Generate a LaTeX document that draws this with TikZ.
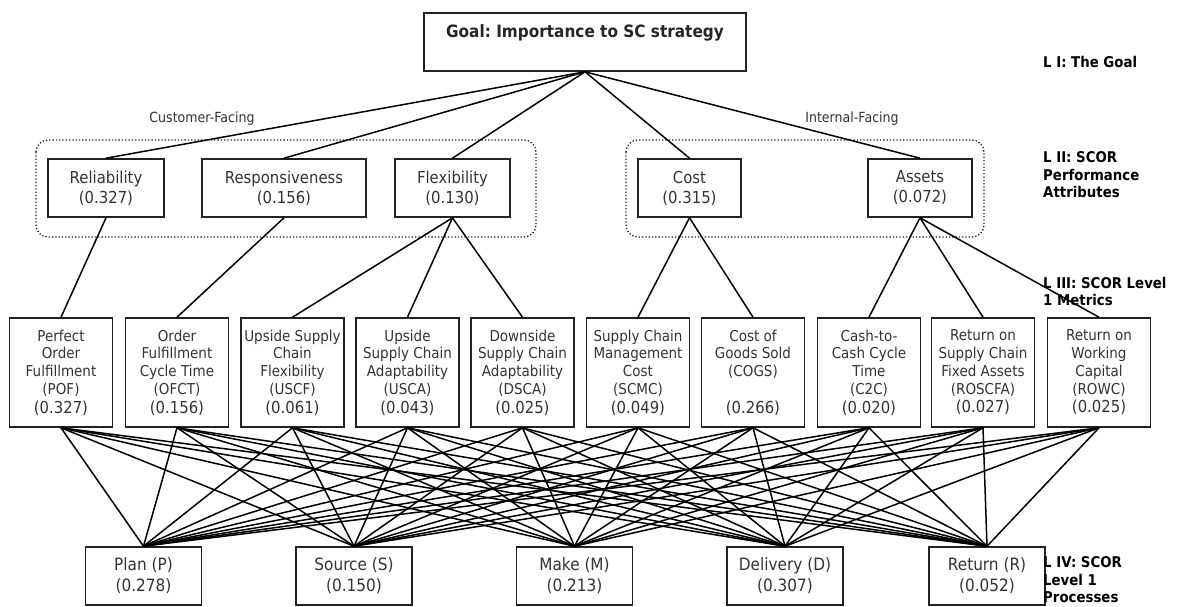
\documentclass[tikz,border=0pt]{standalone}
\usepackage{fontspec}
\setmainfont{DejaVu Sans}[FakeStretch=0.9]
\definecolor{txt}{HTML}{333333}
\definecolor{edge}{HTML}{222222}
\newcommand{\valtxt}[1]{{\fontsize{16.5}{19}\selectfont #1}}
\frenchspacing
\begin{document}
\begin{tikzpicture}[x=1pt,y=-1pt,
  box/.style={draw=edge, line width=1.6pt, text=txt, align=center, inner sep=0pt},
  goalbox/.style={draw=edge, line width=1.6pt, inner sep=0pt, minimum width=322, minimum height=58},
  attr/.style={box, minimum height=58, font=\fontsize{16.5}{20}\selectfont},
  metric/.style={box, minimum width=103, minimum height=109, font=\fontsize{15}{17.7}\selectfont},
  proc/.style={box, minimum width=116, minimum height=58, font=\fontsize{17}{21}\selectfont},
  lvl/.style={anchor=west, align=left, inner sep=0pt, font=\bfseries\fontsize{14.8}{17.6}\selectfont},
  conn/.style={line width=1.5pt, black},
  grp/.style={draw=edge, dotted, line width=1.3pt, rounded corners=12pt},
  face/.style={text=txt, inner sep=0pt, font=\fontsize{14}{16}\selectfont}]
\useasboundingbox (0,0) rectangle (1179,606);

% Level I
\node[goalbox] (goal) at (585,42) {};
\node[inner sep=0pt, font=\bfseries\fontsize{17}{20}\selectfont, text=black!85] (goaltext) at (585,33) {Goal: Importance to SC strategy};

% group frames
\draw[grp] (36,140) rectangle (536,237);
\draw[grp] (626,140) rectangle (984,237);
\node[face] (cf) at (202,119) {Customer-Facing};
\node[face] (inf) at (852,119) {Internal-Facing};

% Level II
\node[attr, minimum width=116] (rel) at (106,188) {Reliability\\(0.327)};
\node[attr, minimum width=164] (resp) at (284,188) {Responsiveness\\(0.156)};
\node[attr, minimum width=115] (flex) at (452.5,188) {Flexibility\\(0.130)};
\node[attr, minimum width=103] (cost) at (689.5,188) {Cost\\(0.315)};
\node[attr, minimum width=104] (asset) at (920,188) {Assets\\(0.072)};

% Level III
\node[metric] (pof) at (61,372.5) {Perfect\\Order\\Fulfillment\\(POF)\\[1pt]\valtxt{(0.327)}};
\node[metric] (ofct) at (177,372.5) {Order\\Fulfillment\\Cycle Time\\(OFCT)\\[1pt]\valtxt{(0.156)}};
\node[metric] (uscf) at (292.5,372.5) {Upside Supply\\Chain\\Flexibility\\(USCF)\\[1pt]\valtxt{(0.061)}};
\node[metric] (usca) at (407.5,372.5) {Upside\\Supply Chain\\Adaptability\\(USCA)\\[1pt]\valtxt{(0.043)}};
\node[metric] (dsca) at (522.5,372.5) {Downside\\Supply Chain\\Adaptability\\(DSCA)\\[1pt]\valtxt{(0.025)}};
\node[metric] (scmc) at (638,372.5) {Supply Chain\\Management\\Cost\\(SCMC)\\[1pt]\valtxt{(0.049)}};
\node[metric] (cogs) at (753,372.5) {Cost of\\Goods Sold\\(COGS)\\\mbox{}\\[1pt]\valtxt{(0.266)}};
\node[metric] (ctc) at (869,372.5) {Cash-to-\\Cash Cycle\\Time\\(C2C)\\[1pt]\valtxt{(0.020)}};
\node[metric] (roscfa) at (983,372.5) {Return on\\Supply Chain\\Fixed Assets\\(ROSCFA)\\[1pt]\valtxt{(0.027)}};
\node[metric] (rowc) at (1099,372.5) {Return on\\Working\\Capital\\(ROWC)\\[1pt]\valtxt{(0.025)}};

% Level IV
\node[proc] (plan) at (143.5,576) {Plan (P)\\(0.278)};
\node[proc] (source) at (354,576) {Source (S)\\(0.150)};
\node[proc] (make) at (574.5,576) {Make (M)\\(0.213)};
\node[proc] (deliv) at (785,576) {Delivery (D)\\(0.307)};
\node[proc] (ret) at (987,576) {Return (R)\\(0.052)};

% level labels
\node[lvl] (lI) at (1043,62) {L I: The Goal};
\node[lvl] (lII) at (1043,175) {L II: SCOR\\Performance\\Attributes};
\node[lvl] (lIII) at (1043,291.5) {L III: SCOR Level\\1 Metrics};
\node[lvl] (lIV) at (1043,580) {L IV: SCOR\\Level 1\\Processes};

% connectors goal -> attributes
\foreach \b in {rel,resp,flex,cost,asset}
  \draw[conn] (goal.south) -- (\b.north);
% attributes -> metrics
\draw[conn] (rel.south) -- (pof.north);
\draw[conn] (resp.south) -- (ofct.north);
\foreach \b in {uscf,usca,dsca} \draw[conn] (flex.south) -- (\b.north);
\foreach \b in {scmc,cogs} \draw[conn] (cost.south) -- (\b.north);
\foreach \b in {ctc,roscfa,rowc} \draw[conn] (asset.south) -- (\b.north);
% metrics -> processes
\foreach \a in {pof,ofct,uscf,usca,dsca,scmc,cogs,ctc,roscfa,rowc}
  \foreach \b in {plan,source,make,deliv,ret}
    \draw[conn] (\a.south) -- (\b.north);
\end{tikzpicture}
\end{document}
